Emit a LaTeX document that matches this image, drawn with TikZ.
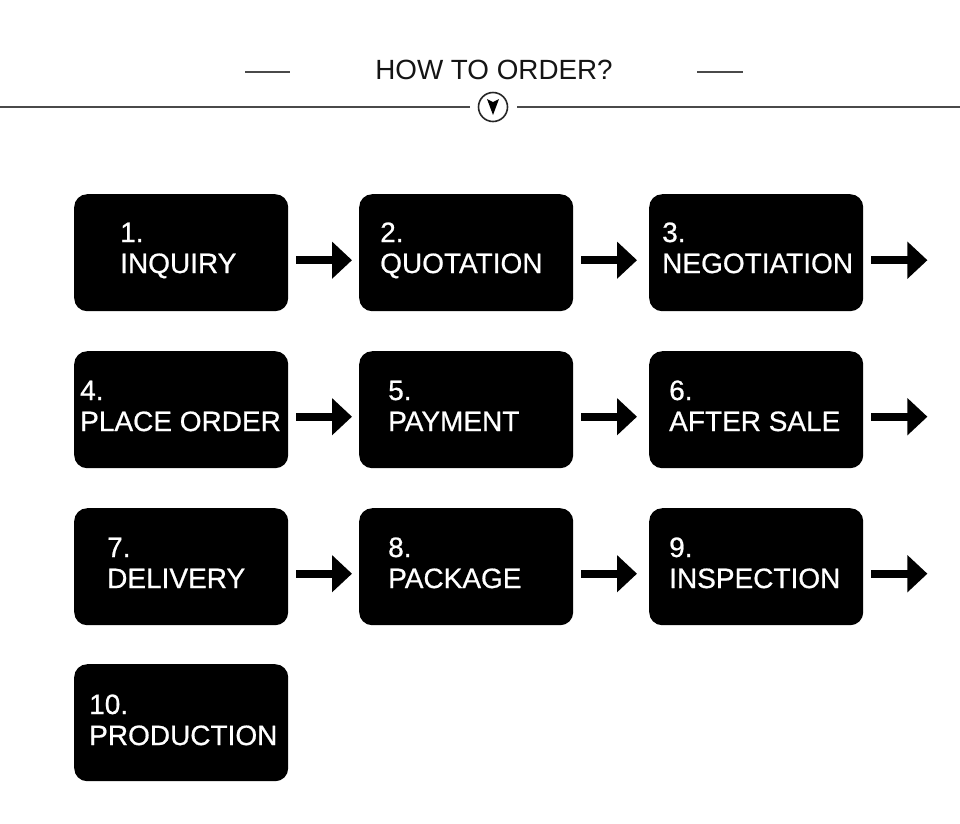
\documentclass[tikz,border=0pt]{standalone}
\usepackage{fontspec}
\setmainfont{Liberation Sans}
\newfontfamily\boxfont{Liberation Sans}[FakeBold=0.7]
\usetikzlibrary{arrows.meta}
\definecolor{rule}{HTML}{4A4A4A}
\tikzset{
  stepbox/.style={fill=black, rounded corners=13pt, minimum width=214pt, minimum height=117pt, inner sep=0pt, anchor=north west},
  boxtxt/.style={text=white, anchor=base west, inner sep=0pt, font=\boxfont\fontsize{28}{30}\selectfont},
  flowarrow/.style={line width=8pt, -{Triangle[length=20pt,width=36pt]}},
}
\begin{document}
\begin{tikzpicture}[x=1pt,y=-1pt]
\useasboundingbox[fill=white] (0,0) rectangle (960,823);
% header
\node[anchor=base, inner sep=0pt, text=black!92, font=\fontsize{27.8}{30}\selectfont] (title) at (494,79) {HOW TO ORDER?};
\coordinate (dl1) at (245,72); \coordinate (dl2) at (290,72);
\coordinate (dr1) at (697,72); \coordinate (dr2) at (743,72);
\draw[rule, line width=1.5pt] (dl1) -- (dl2);
\draw[rule, line width=1.5pt] (dr1) -- (dr2);
\node[circle, draw=black!85, line width=1.6pt, minimum size=29pt, inner sep=0pt] (icon) at (493,107) {};
\coordinate (ll) at (0,107); \coordinate (rr) at (960,107);
\draw[rule, line width=2pt] (ll) -- ([xshift=-8pt]icon.west);
\draw[rule, line width=2pt] ([xshift=9pt]icon.east) -- (rr);
\fill[black] (487,99) -- (493,102) -- (499,99) -- (493,115) -- cycle;
% boxes
\node[stepbox] (b1) at (74,194) {};
\node[stepbox] (b2) at (359,194) {};
\node[stepbox] (b3) at (649,194) {};
\node[stepbox] (b4) at (74,351) {};
\node[stepbox] (b5) at (359,351) {};
\node[stepbox] (b6) at (649,351) {};
\node[stepbox] (b7) at (74,508) {};
\node[stepbox] (b8) at (359,508) {};
\node[stepbox] (b9) at (649,508) {};
\node[stepbox] (b10) at (74,664) {};
% texts
\node[boxtxt] (n1) at (120,242) {1.};  \node[boxtxt] (w1) at (120,273) {INQUIRY};
\node[boxtxt] (n2) at (380,242) {2.};  \node[boxtxt] (w2) at (380,273) {QUOTATION};
\node[boxtxt] (n3) at (662,242) {3.};  \node[boxtxt] (w3) at (662,273) {NEGOTIATION};
\node[boxtxt] (n4) at (80,400) {4.};   \node[boxtxt] (w4) at (80,431) {PLACE ORDER};
\node[boxtxt] (n5) at (388,400) {5.};  \node[boxtxt] (w5) at (388,431) {PAYMENT};
\node[boxtxt] (n6) at (669,400) {6.};  \node[boxtxt] (w6) at (669,431) {AFTER SALE};
\node[boxtxt] (n7) at (107,557) {7.};  \node[boxtxt] (w7) at (107,588) {DELIVERY};
\node[boxtxt] (n8) at (388,557) {8.};  \node[boxtxt] (w8) at (388,588) {PACKAGE};
\node[boxtxt] (n9) at (669,557) {9.};  \node[boxtxt] (w9) at (669,588) {INSPECTION};
\node[boxtxt] (n10) at (89,714) {10.}; \node[boxtxt] (w10) at (89,745) {PRODUCTION};
% arrows
\coordinate (e1) at ([xshift=64pt,yshift=-7.5pt]b3.east);
\coordinate (e2) at ([xshift=64pt,yshift=-7pt]b6.east);
\coordinate (e3) at ([xshift=64pt,yshift=-7pt]b9.east);
\draw[flowarrow] ([xshift=8pt,yshift=-7.5pt]b1.east) -- ([xshift=-7pt,yshift=-7.5pt]b2.west);
\draw[flowarrow] ([xshift=8pt,yshift=-7.5pt]b2.east) -- ([xshift=-12pt,yshift=-7.5pt]b3.west);
\draw[flowarrow] ([xshift=8pt,yshift=-7.5pt]b3.east) -- (e1);
\draw[flowarrow] ([xshift=8pt,yshift=-7pt]b4.east) -- ([xshift=-7pt,yshift=-7pt]b5.west);
\draw[flowarrow] ([xshift=8pt,yshift=-7pt]b5.east) -- ([xshift=-12pt,yshift=-7pt]b6.west);
\draw[flowarrow] ([xshift=8pt,yshift=-7pt]b6.east) -- (e2);
\draw[flowarrow] ([xshift=8pt,yshift=-7pt]b7.east) -- ([xshift=-7pt,yshift=-7pt]b8.west);
\draw[flowarrow] ([xshift=8pt,yshift=-7pt]b8.east) -- ([xshift=-12pt,yshift=-7pt]b9.west);
\draw[flowarrow] ([xshift=8pt,yshift=-7pt]b9.east) -- (e3);
\end{tikzpicture}
\end{document}
